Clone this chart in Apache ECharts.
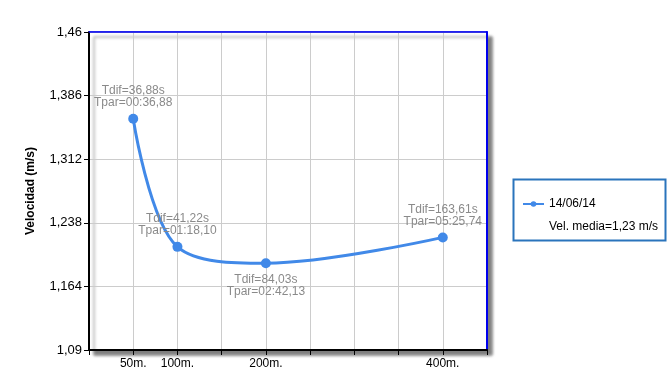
<!DOCTYPE html>
<html><head><meta charset="utf-8">
<script src="https://cdn.jsdelivr.net/npm/echarts@6/dist/echarts.min.js"></script>
<style>html,body{margin:0;padding:0;background:#fff}#c{width:671px;height:374px}</style>
</head><body><div id="c"></div>
<script>
const distances = [50, 100, 200, 400];
const velocity = [1.359, 1.210, 1.191, 1.221];
const tdif = ['36,88s', '41,22s', '84,03s', '163,61s'];
const tpar = ['00:36,88', '01:18,10', '02:42,13', '05:25,74'];
const labelPos = ['top', 'top', 'bottom', 'top'];
const xLabels = [50, 100, 200, 400];
const seriesName = '14/06/14';
const avgText = 'Vel. media=1,23 m/s';

const FONT = 'Liberation Sans';
const chart = echarts.init(document.getElementById('c'), null, {renderer: 'canvas'});
const data = distances.map((d, i) => ({
  value: [d, velocity[i]],
  label: {position: labelPos[i]}
}));
chart.setOption({
  animation: false,
  textStyle: {fontFamily: FONT},
  grid: {
    left: 89, right: 184, top: 32, bottom: 24,
    show: true, backgroundColor: '#fff', borderColor: '#0000ee', borderWidth: 1,
    shadowColor: 'rgba(0,0,0,0.5)', shadowBlur: 3, shadowOffsetX: 5, shadowOffsetY: 5
  },
  xAxis: [{
    type: 'value', min: 0, max: 450, interval: 50, position: 'bottom',
    axisLine: {onZero: false, lineStyle: {color: '#000', width: 2}},
    axisTick: {show: true, inside: false, length: 5, lineStyle: {color: '#000'}},
    axisLabel: {
      color: '#000', fontSize: 12, margin: 8, fontFamily: FONT,
      showMinLabel: true, showMaxLabel: true,
      formatter: v => xLabels.indexOf(v) >= 0 ? v + 'm.' : ''
    },
    splitLine: {show: true, lineStyle: {color: '#cccccc', width: 1}}
  }, {
    type: 'value', min: 0, max: 450, interval: 50, position: 'top',
    axisLine: {show: true, onZero: false, lineStyle: {color: '#0000ee', width: 1.5}},
    axisTick: {show: false}, axisLabel: {show: false}, splitLine: {show: false}
  }],
  yAxis: [{
    type: 'value', min: 1.09, max: 1.46, interval: 0.074, position: 'left',
    name: 'Velocidad (m/s)', nameLocation: 'middle', nameGap: 52,
    nameTextStyle: {color: '#000', fontWeight: 'bold', fontSize: 12, fontFamily: FONT},
    axisLine: {show: true, onZero: false, lineStyle: {color: '#000', width: 2}},
    axisTick: {show: true, length: 5, lineStyle: {color: '#000'}},
    axisLabel: {
      color: '#000', fontSize: 13, margin: 7, fontFamily: FONT,
      formatter: v => String(Math.round(v * 1000) / 1000).replace('.', ',')
    },
    splitLine: {show: true, lineStyle: {color: '#cccccc', width: 1}}
  }, {
    type: 'value', min: 1.09, max: 1.46, interval: 0.074, position: 'right',
    axisLine: {show: true, onZero: false, lineStyle: {color: '#0000ee', width: 2}},
    axisTick: {show: false}, axisLabel: {show: false}, splitLine: {show: false}
  }],
  legend: {
    left: 517, top: 193, itemWidth: 21, itemHeight: 7,
    data: [seriesName],
    textStyle: {color: '#000', fontSize: 12, fontFamily: FONT}
  },
  graphic: [
    {type: 'rect', left: 511, top: 177, shape: {width: 152, height: 61},
     style: {fill: 'none', stroke: '#2a74bc', lineWidth: 2}, z: 10},
    {type: 'text', left: 549, top: 221,
     style: {text: avgText, fill: '#000', font: '12px "Liberation Sans"'}, z: 10}
  ],
  series: [{
    name: seriesName, type: 'line', data: data, smooth: 0.35,
    xAxisIndex: 0, yAxisIndex: 0,
    symbol: 'circle', symbolSize: 10,
    itemStyle: {color: '#4189e8'},
    lineStyle: {color: '#4189e8', width: 3},
    label: {
      show: true, color: '#8a8a8a', fontSize: 12, lineHeight: 12, fontFamily: FONT,
      distance: 5, align: 'center',
      formatter: p => 'Tdif=' + tdif[p.dataIndex] + '\nTpar=' + tpar[p.dataIndex]
    }
  }]
});
</script></body></html>
